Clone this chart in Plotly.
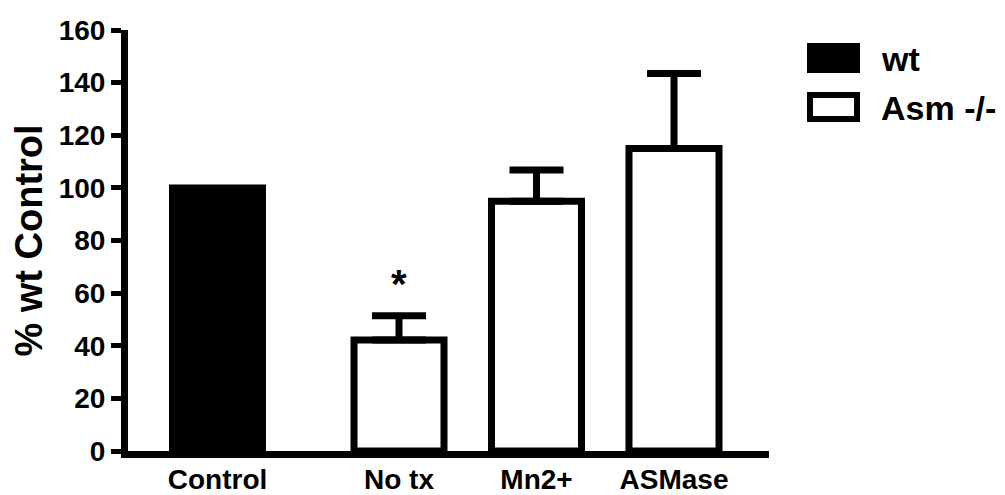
import plotly.graph_objects as go

# ---- data ----
wt_categories = ["Control"]
wt_values = [100]
asm_categories = ["No tx", "Mn2+", "ASMase"]
asm_values = [42.2, 94.9, 115.0]
asm_errors = [9.2, 11.9, 28.5]
y_ticks = [0, 20, 40, 60, 80, 100, 120, 140, 160]
series_names = ["wt", "Asm -/-"]
y_title = "% wt Control"
sig_label = "*"

# ---- layout geometry (target page pixels; page body adds an 8px offset) ----
OFF = 8
W, H = 1005 - OFF, 495 - OFF
L, R = 128 - OFF, 769 - OFF
T, B = 30 - OFF, 451 - OFF
UNIT = 137.5  # px per category step
FONT = "Liberation Sans, Arial, Helvetica, sans-serif"


def px_x(p):
    return (p - OFF - L) / (R - L)


def px_y(p):
    return (B - (p - OFF)) / (B - T)


span = (R - L) / UNIT
asm_left = -(399 - OFF - L) / UNIT
wt_left = -(217.5 - OFF - L) / UNIT
bar_w = 90 / UNIT

fig = go.Figure()
fig.add_trace(go.Bar(
    x=wt_categories, y=wt_values, name=series_names[0],
    width=bar_w,
    marker=dict(color="black", line=dict(color="black", width=7)),
    xaxis="x", yaxis="y", showlegend=False,
))
fig.add_trace(go.Bar(
    x=asm_categories, y=asm_values, name=series_names[1],
    width=bar_w,
    marker=dict(color="white", line=dict(color="black", width=7)),
    error_y=dict(type="data", symmetric=False, array=asm_errors,
                 arrayminus=[0] * len(asm_errors),
                 color="black", thickness=7, width=27),
    xaxis="x2", yaxis="y", showlegend=False,
))

axis_font = dict(family=FONT, size=28, color="black", weight="bold")

common_x = dict(
    type="category", showline=True, linecolor="black", linewidth=7,
    ticks="", showgrid=False, zeroline=False, automargin=False,
    tickfont=axis_font, ticklabelstandoff=-3,
)

fig.update_layout(
    width=W, height=H,
    margin=dict(l=L, r=W - R, t=T, b=H - B, pad=0, autoexpand=False),
    paper_bgcolor="white", plot_bgcolor="white",
    font=dict(family=FONT, color="black"),
    barmode="overlay",
    xaxis=dict(common_x, range=[wt_left, wt_left + span]),
    xaxis2=dict(common_x, range=[asm_left, asm_left + span],
                overlaying="x", anchor="y", side="bottom"),
    yaxis=dict(
        range=[0, 160], tickvals=y_ticks,
        showline=True, linecolor="black", linewidth=7,
        ticks="outside", ticklen=10, tickwidth=5, tickcolor="black",
        showgrid=False, zeroline=False, automargin=False,
        tickfont=axis_font,
        title=dict(text=y_title, font=dict(family=FONT, size=38, color="black", weight="bold"),
                   standoff=14),
    ),
)

# significance marker above "No tx"
fig.add_annotation(
    x=asm_categories[0], y=asm_values[0] + asm_errors[0], xref="x2", yref="y",
    text=sig_label, showarrow=False, yanchor="bottom", yshift=8,
    font=dict(family=FONT, size=40, color="black", weight="bold"),
)

# custom legend (large swatches like the original)
fig.add_shape(type="rect", xref="paper", yref="paper",
              x0=px_x(807), x1=px_x(860), y0=px_y(73), y1=px_y(43),
              fillcolor="black", line=dict(color="black", width=0))
fig.add_shape(type="rect", xref="paper", yref="paper",
              x0=px_x(810), x1=px_x(857), y0=px_y(119), y1=px_y(95),
              fillcolor="white", line=dict(color="black", width=6))
for name, yc in zip(series_names, [59, 108]):
    fig.add_annotation(
        x=px_x(879), y=px_y(yc), xref="paper", yref="paper",
        text=name, showarrow=False, xanchor="left", yanchor="middle",
        font=dict(family=FONT, size=34, color="black", weight="bold"),
    )

fig.write_html("out.html")
